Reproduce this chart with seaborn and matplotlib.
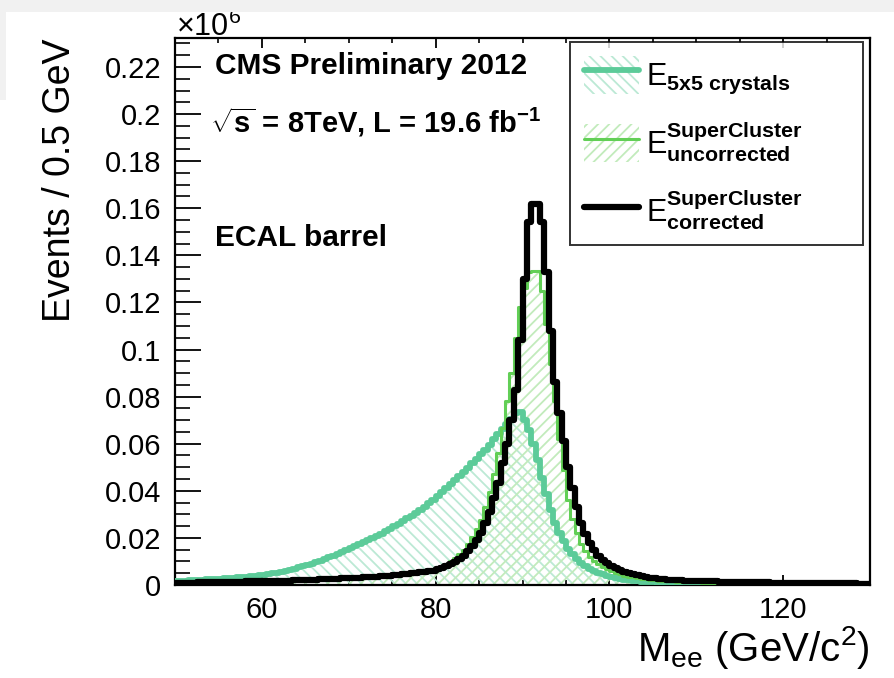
import matplotlib
matplotlib.use("Agg")
import numpy as np
import pandas as pd
import seaborn as sns
import matplotlib.pyplot as plt
from matplotlib.patches import Patch, Rectangle
from matplotlib.lines import Line2D
from matplotlib.ticker import MultipleLocator, FuncFormatter

# ---------------- data (events per 0.5 GeV bin, in units of 10^6) ----------------
bin_lo, bin_hi, bin_w = 50.0, 130.0, 0.5

e5x5 = [
    .0018, .0019, .0019, .0020, .0021, .0022, .0023, .0024, .0025, .0026, .0027, .0028, .0030, .0031, .0032, .0034, .0035, .0037, .0039, .0041,
    .0044, .0047, .0050, .0053, .0057, .0061, .0065, .0070, .0075, .0080, .0085, .0091, .0097, .0104, .0111, .0118, .0125, .0132, .0140, .0148,
    .0156, .0164, .0172, .0181, .0190, .0199, .0208, .0218, .0228, .0238, .0249, .0260, .0271, .0283, .0295, .0307, .0320, .0333, .0347, .0361,
    .0380, .0396, .0412, .0428, .0445, .0462, .0480, .0498, .0516, .0535, .0555, .0575, .0596, .0618, .0640, .0662, .0684, .0705, .0730, .0735,
    .0700, .0660, .0600, .0530, .0455, .0385, .0320, .0265, .0220, .0185, .0155, .0130, .0110, .0094, .0080, .0069, .0060, .0052, .0045, .0039,
    .0034, .0030, .0026, .0023, .0020, .0018, .0016, .0014, .0013, .0012, .0011, .0010, .0009, .0008, .0008, .0007, .0007, .0006, .0006, .0005,
    .0005, .0005, .0004, .0004, .0004, .0004, .0003, .0003, .0003, .0003, .0003, .0003, .0002, .0002, .0002, .0002, .0002, .0002, .0002, .0002,
    .0002, .0002, .0001, .0001, .0001, .0001, .0001, .0001, .0001, .0001, .0001, .0001, .0001, .0001, .0001, .0001, .0001, .0001, .0001, .0001,
]

sc_uncorrected = [
    .0010, .0010, .0011, .0011, .0011, .0012, .0012, .0012, .0013, .0013, .0014, .0014, .0014, .0015, .0015, .0016, .0016, .0017, .0017, .0018,
    .0018, .0019, .0019, .0020, .0020, .0021, .0021, .0022, .0023, .0023, .0024, .0024, .0025, .0026, .0026, .0027, .0028, .0028, .0029, .0030,
    .0030, .0031, .0032, .0034, .0035, .0036, .0038, .0039, .0041, .0042, .0044, .0046, .0048, .0050, .0052, .0054, .0057, .0060, .0063, .0066,
    .0070, .0078, .0088, .0100, .0114, .0130, .0150, .0174, .0202, .0236, .0278, .0330, .0395, .0470, .0560, .0665, .0780, .0900, .1050, .1180,
    .1260, .1330, .1335, .1335, .1250, .1110, .0940, .0780, .0620, .0490, .0360, .0280, .0220, .0175, .0143, .0120, .0102, .0088, .0076, .0066,
    .0058, .0051, .0045, .0040, .0036, .0032, .0029, .0026, .0024, .0022, .0020, .0018, .0017, .0016, .0015, .0014, .0013, .0012, .0012, .0011,
    .0011, .0010, .0010, .0009, .0009, .0009, .0008, .0008, .0008, .0008, .0007, .0007, .0007, .0007, .0006, .0006, .0006, .0006, .0006, .0006,
    .0005, .0005, .0005, .0005, .0005, .0005, .0005, .0004, .0004, .0004, .0004, .0004, .0004, .0004, .0004, .0004, .0004, .0004, .0004, .0004,
]

sc_corrected = [
    .0009, .0009, .0010, .0010, .0010, .0011, .0011, .0011, .0012, .0012, .0012, .0013, .0013, .0013, .0014, .0014, .0015, .0015, .0015, .0016,
    .0016, .0017, .0017, .0018, .0018, .0019, .0019, .0020, .0020, .0021, .0022, .0022, .0023, .0024, .0024, .0025, .0026, .0027, .0028, .0029,
    .0029, .0030, .0031, .0032, .0033, .0034, .0036, .0037, .0038, .0040, .0041, .0043, .0045, .0047, .0049, .0051, .0054, .0056, .0059, .0061,
    .0066, .0072, .0079, .0088, .0098, .0110, .0125, .0143, .0165, .0190, .0222, .0262, .0310, .0368, .0435, .0520, .0600, .0700, .0830, .1040,
    .1300, .1540, .1620, .1620, .1540, .1330, .1080, .0860, .0730, .0610, .0500, .0410, .0330, .0265, .0215, .0178, .0148, .0125, .0107, .0093,
    .0081, .0071, .0063, .0056, .0050, .0045, .0041, .0037, .0034, .0031, .0029, .0027, .0025, .0023, .0022, .0021, .0020, .0019, .0018, .0017,
    .0017, .0016, .0016, .0015, .0015, .0014, .0014, .0013, .0013, .0013, .0012, .0012, .0012, .0011, .0011, .0011, .0011, .0010, .0010, .0010,
    .0010, .0009, .0009, .0009, .0009, .0009, .0008, .0008, .0008, .0008, .0008, .0007, .0007, .0007, .0007, .0007, .0007, .0006, .0006, .0006,
]

legend_labels = [
    r"$\mathrm{E}_{\mathbf{5x5\ crystals}}$",
    r"$\mathrm{E}_{\mathbf{uncorrected}}^{\mathbf{SuperCluster}}$",
    r"$\mathrm{E}_{\mathbf{corrected}}^{\mathbf{SuperCluster}}$",
]
y_ticks = [0, 0.02, 0.04, 0.06, 0.08, 0.1, 0.12, 0.14, 0.16, 0.18, 0.2, 0.22]
x_ticks = [60, 80, 100, 120]

edges = list(np.arange(bin_lo, bin_hi + bin_w / 2, bin_w))
centers = np.arange(bin_lo, bin_hi, bin_w) + bin_w / 2

# ---------------- style ----------------
sns.set_theme(style="white")
plt.rcParams["font.family"] = ["Liberation Sans", "DejaVu Sans"]
plt.rcParams["mathtext.fontset"] = "custom"
plt.rcParams["mathtext.rm"] = "Liberation Sans"
plt.rcParams["mathtext.bf"] = "Liberation Sans:bold"
plt.rcParams["mathtext.it"] = "Liberation Sans:italic"
plt.rcParams["hatch.linewidth"] = 1.3
for k in ["text.color", "axes.labelcolor", "xtick.color", "ytick.color", "axes.edgecolor"]:
    plt.rcParams[k] = "black"

teal = "#5ccb99"
teal_hatch = "#bce9d5"
green = "#62cf56"
green_hatch = "#c2ebbc"

fig = plt.figure(figsize=(8.94, 6.78), dpi=100)
fig.patch.set_facecolor("white")
ax = fig.add_axes([175 / 894, 1 - 585 / 678, (870 - 175) / 894, (585 - 38) / 678])

styles = [
    dict(vals=e5x5, color=teal, hatch_color=teal_hatch, hatch="\\\\\\", lw=4.2),
    dict(vals=sc_uncorrected, color=green, hatch_color=green_hatch, hatch="///", lw=2.2),
    dict(vals=sc_corrected, color="black", hatch_color=None, hatch=None, lw=4.5),
]
frames = [pd.DataFrame({"mass": centers, "events": st["vals"]}) for st in styles]

# hatched fills
for st, df in zip(styles, frames):
    if st["hatch"] is None:
        continue
    sns.histplot(data=df, x="mass", weights="events", bins=edges, element="step", fill=True,
                 color=st["hatch_color"], ax=ax, zorder=1)
    coll = ax.collections[-1]
    coll.set_facecolor("none")
    coll.set_edgecolor(st["hatch_color"])
    coll.set_hatch(st["hatch"])
    coll.set_linewidth(0)

# outlines
for st, df in zip(styles, frames):
    sns.histplot(data=df, x="mass", weights="events", bins=edges, element="step", fill=False,
                 color=st["color"], linewidth=st["lw"], ax=ax, zorder=3)

ax.set_xlim(bin_lo, bin_hi)
ax.set_ylim(0, 0.2323)
ax.set_xticks(x_ticks)
ax.xaxis.set_minor_locator(MultipleLocator(5))
ax.set_yticks(y_ticks)
ax.yaxis.set_minor_locator(MultipleLocator(0.005))
ax.yaxis.set_major_formatter(FuncFormatter(lambda v, p: "%g" % round(v, 4)))

ax.tick_params(axis="x", which="major", direction="in", length=7.5, width=1.3, top=True, bottom=True,
               labelsize=21, pad=8, color="black", labelcolor="black")
ax.tick_params(axis="x", which="minor", direction="in", length=3.5, width=1.2, top=True, bottom=True,
               color="black")
ax.tick_params(axis="y", which="major", direction="in", length=19, width=1.3, left=True, right=False,
               labelsize=21, pad=10, color="black", labelcolor="black")
ax.tick_params(axis="y", which="minor", direction="in", length=11, width=1.2, left=True, right=False,
               color="black")
for sp in ax.spines.values():
    sp.set_visible(True)
    sp.set_color("black")
    sp.set_linewidth(1.6)

ax.set_xlabel(r"M$_{\mathregular{ee}}$ (GeV/c$^{\mathregular{2}}$)", loc="right", fontsize=29,
              color="black", labelpad=0)
ax.set_ylabel("Events / 0.5 GeV", loc="top", fontsize=27, color="black", labelpad=19)

# annotations
ax.text(0.058, 0.949, "CMS Preliminary 2012", transform=ax.transAxes, fontsize=21.5,
        fontweight="bold", va="center", ha="left", color="black")
ax.text(0.05, 0.846, r"$\sqrt{\mathbf{s}}$ = 8TeV, L = 19.6 fb$^{\mathbf{-1}}$", transform=ax.transAxes,
        fontsize=21, fontweight="bold", va="center", ha="left", color="black")
ax.text(0.058, 0.634, "ECAL barrel", transform=ax.transAxes, fontsize=21.5,
        fontweight="bold", va="center", ha="left", color="black")

fig.text(176 / 894, 1 - 36 / 678, r"$\times$10$^{\mathregular{6}}$", fontsize=22, va="baseline",
         ha="left", color="black")

# legend
handles = [
    (Patch(facecolor="none", edgecolor=teal_hatch, hatch="\\\\\\", linewidth=0),
     Line2D([], [], color=teal, lw=4.2)),
    (Patch(facecolor="none", edgecolor=green_hatch, hatch="///", linewidth=0),
     Line2D([], [], color=green, lw=2.2)),
    Line2D([], [], color="black", lw=4.5),
]
x0 = (570 - 175) / 695
w = (863 - 570) / 695
top = (585 - 42) / 547
leg = ax.legend(handles, legend_labels, loc="upper left", bbox_to_anchor=(x0, 0.3, w, top - 0.3),
                mode="expand", fontsize=22, frameon=True, fancybox=False, edgecolor="black",
                handlelength=1.8, handleheight=1.55, handletextpad=0.25, labelspacing=0.75,
                borderpad=0.45, borderaxespad=0.0, labelcolor="black")
leg.get_frame().set_linewidth(1.4)
leg.set_zorder(5)

# grey screenshot border
fig.patches.append(Rectangle((0, 1 - 12 / 678), 1, 12 / 678, transform=fig.transFigure,
                             facecolor="#f1f1f1", edgecolor="none", zorder=10))
fig.patches.append(Rectangle((0, 1 - 100 / 678), 6 / 894, 100 / 678, transform=fig.transFigure,
                             facecolor="#f1f1f1", edgecolor="none", zorder=10))

fig.savefig("out.png", dpi=100, facecolor="white")
